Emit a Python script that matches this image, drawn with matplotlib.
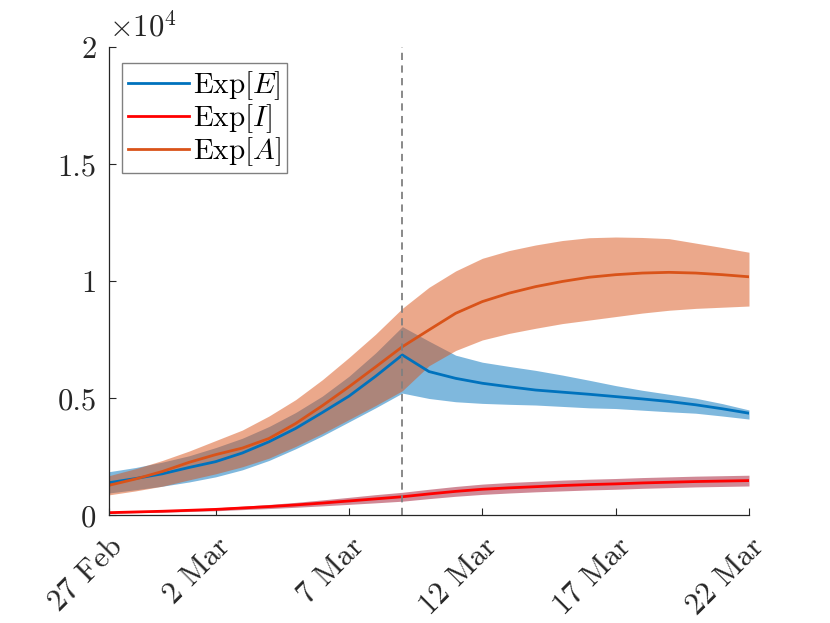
import numpy as np
import matplotlib
matplotlib.use("Agg")
import matplotlib.pyplot as plt
import matplotlib.transforms as mtransforms

plt.rcParams['mathtext.fontset'] = 'cm'
plt.rcParams['font.family'] = ['cmr10', 'DejaVu Serif']
plt.rcParams['axes.unicode_minus'] = False

dates = np.arange(np.datetime64('2020-02-27'), np.datetime64('2020-03-23'))

E_mean = [1400, 1580, 1780, 2050, 2300, 2670, 3150, 3720, 4400, 5100, 5950, 6860,
          6150, 5860, 5650, 5500, 5360, 5270, 5180, 5080, 4980, 4870, 4730, 4560, 4370]
E_hi = [1870, 2050, 2280, 2550, 2900, 3300, 3800, 4400, 5100, 5950, 6950, 8070,
        7450, 6850, 6550, 6370, 6200, 6000, 5780, 5550, 5350, 5180, 5010, 4780, 4510]
E_lo = [960, 1100, 1250, 1430, 1650, 1950, 2350, 2850, 3400, 4000, 4600, 5230,
        5000, 4860, 4790, 4750, 4720, 4660, 4600, 4570, 4500, 4430, 4370, 4250, 4120]

A_mean = [1290, 1560, 1880, 2270, 2600, 2880, 3290, 3930, 4690, 5500, 6350, 7210,
          7930, 8640, 9140, 9500, 9780, 10000, 10180, 10290, 10360, 10390, 10360, 10290, 10200]
A_hi = [1700, 2000, 2350, 2750, 3200, 3650, 4250, 4950, 5800, 6750, 7750, 8850,
        9750, 10450, 10990, 11320, 11560, 11750, 11870, 11900, 11880, 11830, 11640, 11450, 11250]
A_lo = [880, 1050, 1250, 1520, 1780, 2080, 2450, 2950, 3500, 4100, 4700, 5330,
        6400, 7050, 7500, 7780, 8000, 8200, 8350, 8500, 8650, 8770, 8850, 8900, 8950]

I_mean = [120, 150, 180, 220, 260, 320, 380, 450, 530, 620, 710, 800,
          920, 1030, 1120, 1180, 1230, 1280, 1320, 1350, 1390, 1420, 1450, 1470, 1490]
I_hi = [150, 185, 225, 270, 325, 395, 470, 560, 665, 775, 890, 990,
        1120, 1240, 1340, 1410, 1460, 1510, 1550, 1580, 1620, 1650, 1680, 1700, 1720]
I_lo = [95, 120, 140, 170, 200, 250, 295, 350, 410, 475, 540, 610,
        720, 820, 900, 960, 1010, 1050, 1090, 1120, 1160, 1190, 1220, 1240, 1260]

tick_dates = ['2020-02-27', '2020-03-02', '2020-03-07', '2020-03-12', '2020-03-17', '2020-03-22']
tick_labels = ['27 Feb', '2 Mar', '7 Mar', '12 Mar', '17 Mar', '22 Mar']
y_ticks = [0, 5000, 10000, 15000, 20000]
y_labels = ['0', '0.5', '1', '1.5', '2']
intervention = '2020-03-09'

c_E = '#0072BD'
c_I = '#FF0000'
c_A = '#D95319'
c_Ifill = '#A2142F'
dark = '#262626'

fig = plt.figure(figsize=(8.3, 6.23), dpi=100)
ax = fig.add_axes([0.1313, 0.1726, 0.7711, 0.7512])

x = dates.astype('datetime64[D]').astype('O')
ax.fill_between(x, E_lo, E_hi, color=c_E, alpha=0.5, lw=0)
ax.fill_between(x, A_lo, A_hi, color=c_A, alpha=0.5, lw=0)
ax.fill_between(x, I_lo, I_hi, color=c_Ifill, alpha=0.5, lw=0)

ax.plot(x, E_mean, color=c_E, lw=2, label=r'Exp$[E]$')
ax.plot(x, I_mean, color=c_I, lw=2, label=r'Exp$[I]$')
ax.plot(x, A_mean, color=c_A, lw=2, label=r'Exp$[A]$')

ax.axvline(np.datetime64(intervention).astype('O'), color='#808080', ls=(0, (4, 3)), lw=1.3)

ax.set_xlim(x[0], x[-1])
ax.set_ylim(0, 20000)
tk = [np.datetime64(d).astype('O') for d in tick_dates]
ax.set_xticks(tk)
ax.set_xticklabels([])
base = mtransforms.blended_transform_factory(ax.transData, ax.transAxes)
off = mtransforms.ScaledTranslation(0.10, -0.27, fig.dpi_scale_trans)
for d, lab in zip(tk, tick_labels):
    ax.text(d, 0, lab, transform=base + off, rotation=45, ha='right', va='center',
            rotation_mode='anchor', fontsize=22, color=dark, clip_on=False)
ax.set_yticks(y_ticks)
ax.set_yticklabels(y_labels, fontsize=22, color=dark)
ax.tick_params(axis='both', direction='in', length=5, width=0.8, color=dark)
ax.tick_params(axis='y', pad=9)
for s in ['top', 'right']:
    ax.spines[s].set_visible(False)
for s in ['left', 'bottom']:
    ax.spines[s].set_color(dark)
    ax.spines[s].set_linewidth(0.9)

ax.text(0.0, 1.012, r'$\times10^{4}$', transform=ax.transAxes, fontsize=22,
        color=dark, ha='left', va='bottom')

leg = ax.legend(loc='upper left', bbox_to_anchor=(0.02, 0.966), borderaxespad=0,
                fontsize=21, handlelength=2.1, handletextpad=0.15, labelspacing=0.0,
                borderpad=0.2, fancybox=False, framealpha=1)
leg.get_frame().set_edgecolor('#808080')
leg.get_frame().set_linewidth(1.0)
for t in leg.get_texts():
    t.set_color('black')

fig.savefig('out.png', dpi=100)
